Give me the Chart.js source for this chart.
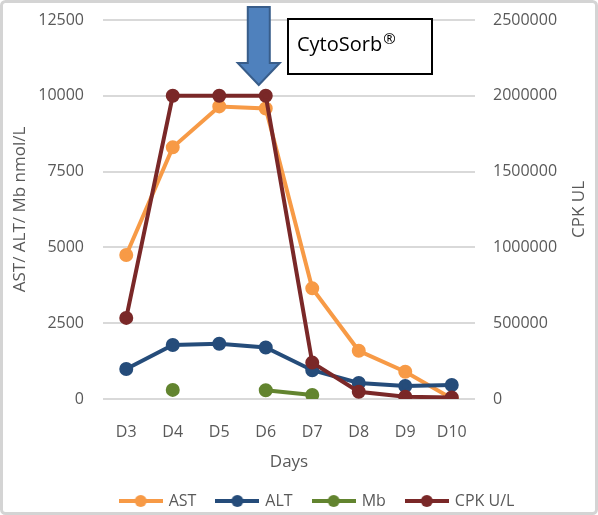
<!DOCTYPE html>
<html><head><meta charset="utf-8">
<script src="https://cdn.jsdelivr.net/npm/chart.js@4/dist/chart.umd.min.js"></script>
<style>html,body{margin:0;padding:0;background:#fff;overflow:hidden}</style>
</head><body>
<canvas id="c" width="598" height="515" style="display:block;width:598px;height:515px"></canvas>
<script>
const days = ['D3','D4','D5','D6','D7','D8','D9','D10'];
const astValues = [4750, 8300, 9650, 9580, 3650, 1590, 900, 20];
const altValues = [990, 1780, 1820, 1700, 950, 530, 430, 460];
const mbValues = [null, 300, null, 290, 130, null, null, null];
const cpkValues = [535000, 2000000, 2000000, 2000000, 240000, 48000, 15000, 10000];
const leftTicks = [0, 2500, 5000, 7500, 10000, 12500];
const rightTicks = [0, 500000, 1000000, 1500000, 2000000, 2500000];

const FONT = "'Open Sans', 'Liberation Sans', sans-serif";
const TXT = '#595959';
const colors = {AST:'#F79A46', ALT:'#254C7A', Mb:'#62842F', CPK:'#7A2828'};

function legendImg(color){
  const cv = document.createElement('canvas');
  cv.width = 44; cv.height = 14;
  const g = cv.getContext('2d');
  g.strokeStyle = color; g.lineWidth = 4;
  g.beginPath(); g.moveTo(0,7); g.lineTo(44,7); g.stroke();
  g.fillStyle = color;
  g.beginPath(); g.arc(22,7,6,0,Math.PI*2); g.fill();
  return cv;
}

const decor = {
  id:'decor',
  beforeDraw(chart){
    const c = chart.ctx;
    c.save(); c.fillStyle = '#fff'; c.fillRect(0,0,chart.width,chart.height); c.restore();
  },
  afterLayout(chart){
    const lg = chart.legend;
    if (lg){ lg.left += 18; lg.right += 18; }
  },
  afterDraw(chart){
    const c = chart.ctx;
    const xs = chart.scales.x;
    const ys = chart.scales.y1;
    const top = chart.chartArea.top;
    c.save();
    // right axis title (reads bottom to top)
    c.fillStyle = TXT;
    c.font = "17px " + FONT;
    c.textAlign = 'center';
    c.textBaseline = 'middle';
    c.translate(ys.right - 10, (ys.top + ys.bottom)/2);
    c.rotate(-Math.PI/2);
    c.fillText('CPK UL', 0, 0);
    c.setTransform(1,0,0,1,0,0);
    c.textAlign = 'left';
    // arrow
    const ax = xs.getPixelForValue(2.85);
    c.beginPath();
    c.moveTo(ax-11, top-13);
    c.lineTo(ax+11, top-13);
    c.lineTo(ax+11, top+43);
    c.lineTo(ax+21, top+43);
    c.lineTo(ax, top+65);
    c.lineTo(ax-21, top+43);
    c.lineTo(ax-11, top+43);
    c.closePath();
    c.fillStyle = '#4F81BD'; c.fill();
    c.strokeStyle = '#385D8A'; c.lineWidth = 2; c.stroke();
    // box
    const bx = (xs.getPixelForValue(3) + xs.getPixelForValue(4))/2 - 1;
    c.fillStyle = '#fff';
    c.fillRect(bx, top-1, 144, 55);
    c.strokeStyle = '#000'; c.lineWidth = 2;
    c.strokeRect(bx, top-1, 144, 55);
    c.fillStyle = '#000';
    c.font = "20px " + FONT;
    c.textBaseline = 'middle';
    c.fillText('CytoSorb', bx+9, top+25);
    const w = c.measureText('CytoSorb').width;
    c.font = "15px " + FONT;
    c.fillText('®', bx+9+w+1, top+20);
    // frame
    c.strokeStyle = '#d4d4d4'; c.lineWidth = 3;
    c.beginPath();
    c.roundRect ? c.roundRect(1.5,1.5,chart.width-3,chart.height-3,4) : c.rect(1.5,1.5,chart.width-3,chart.height-3);
    c.stroke();
    c.restore();
  }
};

function ds(label, data, color, axis, order){
  return {label, data, borderColor: color, backgroundColor: color, pointBackgroundColor: color,
    pointBorderColor: color, borderWidth: 4, pointRadius: 5, pointHoverRadius: 5,
    yAxisID: axis, order, spanGaps: false, tension: 0};
}

const plain = v => String(v);

new Chart(document.getElementById('c'), {
  type: 'line',
  data: {
    labels: days,
    datasets: [
      ds('AST', astValues, colors.AST, 'y', 4),
      ds('ALT', altValues, colors.ALT, 'y', 3),
      ds('Mb', mbValues, colors.Mb, 'y', 2),
      ds('CPK U/L', cpkValues, colors.CPK, 'y1', 1)
    ]
  },
  options: {
    responsive: false,
    animation: false,
    devicePixelRatio: 1,
    layout: {padding: {left: 10, right: 9, top: 20, bottom: 0}},
    plugins: {
      tooltip: {enabled: false},
      legend: {
        position: 'bottom',
        maxHeight: 43,
        labels: {
          usePointStyle: true,
          pointStyleWidth: 40,
          padding: 21,
          color: TXT,
          font: {family: FONT, size: 16},
          generateLabels(chart){
            return chart.data.datasets.map((d,i)=>({
              text: d.label, fillStyle: d.borderColor, strokeStyle: d.borderColor,
              lineWidth: 0, pointStyle: legendImg(d.borderColor), datasetIndex: i, hidden: false,
              fontColor: TXT
            }));
          }
        }
      }
    },
    scales: {
      x: {
        offset: true,
        grid: {display: false},
        border: {display: false},
        ticks: {color: TXT, font: {family: FONT, size: 16}, padding: 16, maxRotation: 0},
        title: {display: true, text: 'Days', color: TXT, font: {family: FONT, size: 17}, padding: {top: 0, bottom: 0}},
        afterFit(s){ s.height = 73; }
      },
      y: {
        position: 'left',
        min: 0, max: 12500,
        afterBuildTicks(s){ s.ticks = leftTicks.map(v=>({value:v})); },
        grid: {color: '#d9d9d9', lineWidth: 2, drawTicks: false},
        border: {display: false},
        ticks: {color: TXT, font: {family: FONT, size: 16}, padding: 19, callback: plain},
        title: {display: true, text: 'AST/ ALT/ Mb nmol/L', color: TXT, font: {family: FONT, size: 17}, padding: {top: 0, bottom: 0}},
        afterFit(s){ s.width = 93; s.paddingTop = 0; s.paddingBottom = 0; }
      },
      y1: {
        position: 'right',
        min: 0, max: 2500000,
        afterBuildTicks(s){ s.ticks = rightTicks.map(v=>({value:v})); },
        grid: {display: false, drawTicks: false},
        border: {display: false},
        ticks: {color: TXT, font: {family: FONT, size: 16}, padding: 18, callback: plain},
        title: {display: false, text: 'CPK UL'},
        afterFit(s){ s.width = 114; s.paddingTop = 0; s.paddingBottom = 0; }
      }
    }
  },
  plugins: [decor]
});
</script>
</body></html>
